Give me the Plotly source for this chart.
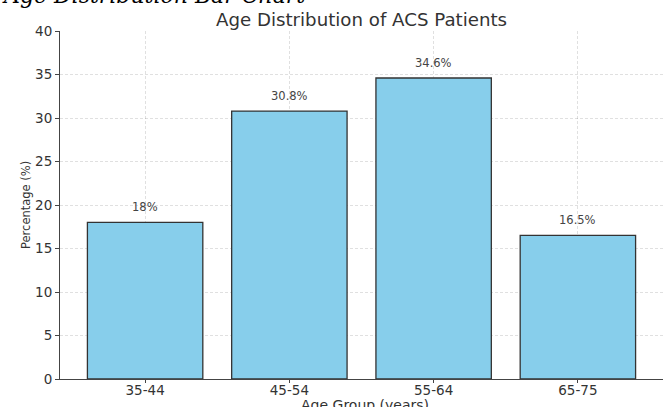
import plotly.graph_objects as go

categories = ["35-44", "45-54", "55-64", "65-75"]
values = [18.0, 30.8, 34.6, 16.5]
labels = ["18%", "30.8%", "34.6%", "16.5%"]
y_ticks = [0, 5, 10, 15, 20, 25, 30, 35, 40]

W, H = 670, 407
L, R, T, B = 60, 7, 31, 28
PW, PH = W - L - R, H - T - B

fig = go.Figure()
fig.add_trace(go.Bar(
    x=categories, y=values, width=0.8,
    marker=dict(color="#87CEEB", line=dict(color="#333333", width=1.3)),
    cliponaxis=False,
))

for c, v, t in zip(categories, values, labels):
    fig.add_annotation(x=c, y=v + 0.7, text=t, showarrow=False, yanchor="bottom",
                       font=dict(family="DejaVu Sans", size=11.5, color="#444444"))

grid = dict(showgrid=True, gridcolor="rgba(0,0,0,0.12)", griddash="3px,2px", gridwidth=1)

fig.update_layout(
    width=W, height=H,
    margin=dict(l=L, r=R, t=T, b=B, autoexpand=False),
    paper_bgcolor="white", plot_bgcolor="white",
    showlegend=False,
    font=dict(family="DejaVu Sans", color="#333333"),
    title=dict(text="Age Distribution of ACS Patients", x=361.5 / W, xanchor="center",
               y=1 - 20 / H, yanchor="middle", automargin=False,
               font=dict(family="DejaVu Sans", size=18.2, color="#333333")),
    xaxis=dict(range=[-0.59, 3.59], showline=True, linecolor="#444444", linewidth=1,
               ticks="outside", ticklen=3, tickcolor="#444444", ticklabelstandoff=-4,
               tickfont=dict(size=13.5, color="#333333"), automargin=False,
               layer="above traces", **grid),
    yaxis=dict(range=[0, 40], tickvals=y_ticks, showline=True, linecolor="#444444", linewidth=1,
               ticks="outside", ticklen=4, tickcolor="#444444",
               tickfont=dict(size=13.5, color="#333333"), automargin=False,
               zeroline=False, layer="above traces", **grid),
)

# axis titles
fig.add_annotation(text="Age Group (years)", xref="paper", yref="paper",
                   x=(365 - L) / PW, xanchor="center", y=-(405 - (T + PH)) / PH, yanchor="middle",
                   showarrow=False, font=dict(family="DejaVu Sans", size=14, color="#333333"))
fig.add_annotation(text="Percentage (%)", xref="paper", yref="paper", textangle=-90,
                   x=-(L - 26) / PW, xanchor="center", y=0.5, yanchor="middle",
                   showarrow=False, font=dict(family="DejaVu Sans", size=11.5, color="#333333"))

fig.add_annotation(text="<i>Age Distribution Bar Chart</i>", xref="paper", yref="paper",
                   x=-L / PW, xanchor="left", y=1 + 21 / PH, yanchor="bottom",
                   showarrow=False, font=dict(family="DejaVu Serif", size=22, color="#000000"))

fig.write_html("out.html", config={"displayModeBar": False},
               post_script="document.body.style.margin='0px';document.body.style.overflow='hidden';")
